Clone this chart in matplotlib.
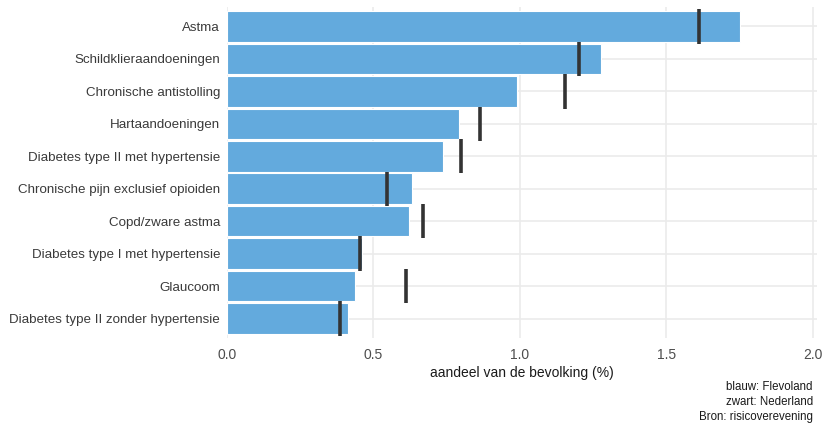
import numpy as np
import matplotlib
matplotlib.use('Agg')
import matplotlib.pyplot as plt

plt.rcParams['font.family'] = ['Liberation Sans Narrow', 'Liberation Sans', 'DejaVu Sans']

# data (percentage of population)
categories = ['Astma', 'Schildklieraandoeningen', 'Chronische antistolling',
              'Hartaandoeningen', 'Diabetes type II met hypertensie',
              'Chronische pijn exclusief opioiden', 'Copd/zware astma',
              'Diabetes type I met hypertensie', 'Glaucoom',
              'Diabetes type II zonder hypertensie']
flevoland = [1.752, 1.277, 0.991, 0.792, 0.736, 0.632, 0.621, 0.461, 0.437, 0.414]
nederland = [1.612, 1.200, 1.153, 0.864, 0.799, 0.547, 0.670, 0.455, 0.612, 0.386]
xticks = [0.0, 0.5, 1.0, 1.5, 2.0]

fig = plt.figure(figsize=(8.24, 4.24), dpi=100)
ax = fig.add_axes([227/824, 1 - 338/424, (817-227)/824, (338-7)/424])

y = np.arange(len(categories))
ax.barh(y, flevoland, height=0.94, color='#63aadd', edgecolor='white', linewidth=0.8, zorder=2)
ax.vlines(nederland, y - 0.53, y + 0.53, color='#333333', linewidth=2.6, zorder=3)

ax.set_xlim(0, 2.014)
ax.set_ylim(len(categories) - 0.4, -0.6)
ax.set_yticks(y)
ax.set_yticklabels(categories)
ax.set_xticks(xticks)
ax.set_xticklabels([f'{t:.1f}' for t in xticks])
ax.grid(True, color='#ebebeb', linewidth=1.2, zorder=0)
ax.set_axisbelow(True)
for s in ax.spines.values():
    s.set_visible(False)
ax.tick_params(axis='y', length=0, labelsize=9.6, colors='#3a3a3a', pad=5)
ax.tick_params(axis='x', length=0, labelsize=10, colors='#4d4d4d', pad=7)
ax.set_xlabel('aandeel van de bevolking (%)', fontsize=10, color='#1a1a1a', labelpad=3)

fig.text(813/824, 1 - 381/424, 'blauw: Flevoland\nzwart: Nederland\nBron: risicoverevening',
         ha='right', va='top', fontsize=8.3, color='#1a1a1a', linespacing=1.35)

fig.savefig('out.png', dpi=100)
